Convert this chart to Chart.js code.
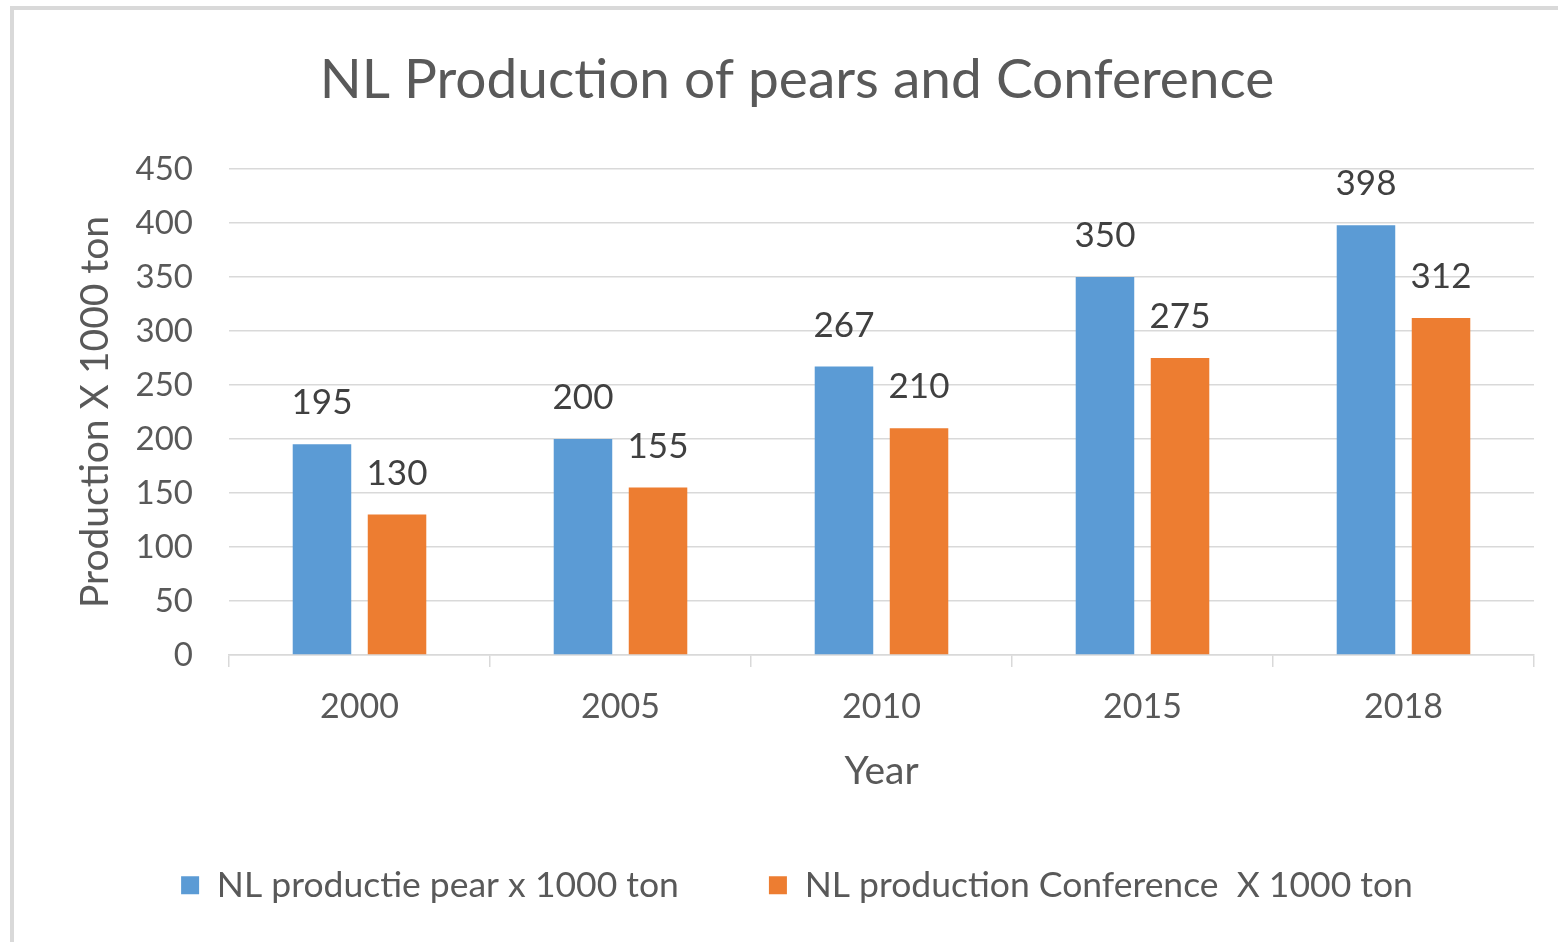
<!DOCTYPE html>
<html>
<head>
<meta charset="utf-8">
<script src="https://cdn.jsdelivr.net/npm/chart.js@4.4.0/dist/chart.umd.min.js"></script>
<style>
  html, body { margin: 0; padding: 0; background: #ffffff; }
  body { width: 1558px; height: 942px; position: relative; overflow: hidden; }
  #frameTop { position: absolute; left: 10px; top: 6px; width: 1548px; height: 4px; background: #d9d9d9; }
  #frameLeft { position: absolute; left: 10px; top: 6px; width: 4px; height: 936px; background: #d9d9d9; }
  #chart { position: absolute; left: 14px; top: 10px; }
</style>
</head>
<body>
<div id="frameTop"></div>
<div id="frameLeft"></div>
<canvas id="chart" width="1544" height="932"></canvas>
<script>
const categories = ['2000', '2005', '2010', '2015', '2018'];
const pearValues = [195, 200, 267, 350, 398];
const conferenceValues = [130, 155, 210, 275, 312];
const pearLabel = 'NL productie pear x 1000 ton';
const conferenceLabel = 'NL production Conference  X 1000 ton';
const chartTitle = 'NL Production of pears and Conference';
const yAxisTitle = 'Production X 1000 ton';
const xAxisTitle = 'Year';
const yMin = 0, yMax = 450, yStep = 50;

const FONT = 'Lato, "Open Sans", sans-serif';
const TEXT = '#595959';

const valueLabels = {
  id: 'valueLabels',
  afterDatasetsDraw(chart) {
    const ctx = chart.ctx;
    ctx.save();
    ctx.font = '35px ' + FONT;
    ctx.fillStyle = '#404040';
    ctx.textAlign = 'center';
    ctx.textBaseline = 'alphabetic';
    chart.data.datasets.forEach((ds, i) => {
      chart.getDatasetMeta(i).data.forEach((bar, j) => {
        ctx.fillText(String(ds.data[j]), bar.x, bar.y - 30);
      });
    });
    ctx.restore();
  }
};

new Chart(document.getElementById('chart'), {
  type: 'bar',
  data: {
    labels: categories,
    datasets: [
      { label: pearLabel, data: pearValues, backgroundColor: '#5B9BD5',
        categoryPercentage: 0.575, barPercentage: 0.78 },
      { label: conferenceLabel, data: conferenceValues, backgroundColor: '#ED7D31',
        categoryPercentage: 0.575, barPercentage: 0.78 }
    ]
  },
  options: {
    responsive: false,
    animation: false,
    layout: { padding: { left: 46, right: 24, top: 0, bottom: 29 } },
    plugins: {
      title: {
        display: true, text: chartTitle, color: TEXT,
        font: { family: FONT, size: 55, weight: 'normal' },
        padding: { top: 37, bottom: 56 }
      },
      legend: {
        position: 'bottom',
        labels: {
          color: TEXT, font: { family: FONT, size: 35.5 },
          boxWidth: 18, boxHeight: 18, padding: 90
        }
      },
      tooltip: { enabled: false }
    },
    scales: {
      x: {
        grid: { display: true, drawOnChartArea: false, drawTicks: true, tickLength: 12, color: '#d9d9d9', lineWidth: 1.5 },
        border: { display: true, color: '#d9d9d9', width: 1.5 },
        ticks: { color: TEXT, font: { family: FONT, size: 34 }, padding: 20 },
        title: { display: true, text: xAxisTitle, color: TEXT, font: { family: FONT, size: 39 }, padding: { top: 0, bottom: -17 } }
      },
      y: {
        min: yMin, max: yMax,
        grid: { color: '#d9d9d9', lineWidth: 1.5, drawTicks: false },
        border: { display: false },
        ticks: { stepSize: yStep, color: TEXT, font: { family: FONT, size: 33 }, padding: 36 },
        title: { display: true, text: yAxisTitle, color: TEXT, font: { family: FONT, size: 39 }, padding: { top: 12, bottom: 0 } },
        afterFit(scale) { scale.width = 169; }
      }
    }
  },
  plugins: [valueLabels]
});
</script>
</body>
</html>
